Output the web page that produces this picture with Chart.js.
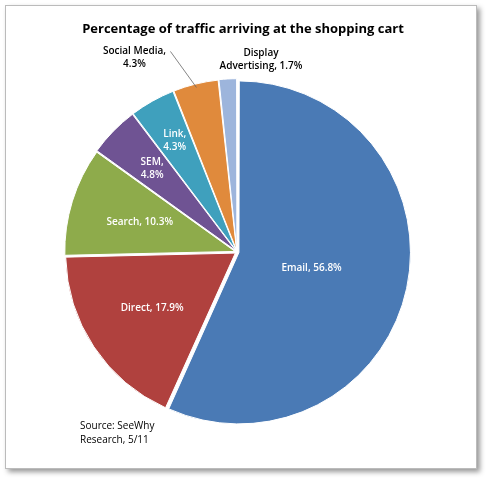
<!DOCTYPE html>
<html><head><meta charset="utf-8">
<script src="https://cdn.jsdelivr.net/npm/chart.js@4"></script>
<style>
body{margin:0;background:#fff;}
#frame{position:absolute;left:5px;top:5px;width:470px;height:462px;border:1px solid #bbb;box-shadow:3px 3px 5px #999;background:#fff;}
canvas{position:absolute;left:0;top:0;}
</style></head>
<body><div id="frame"></div><canvas id="c" width="487" height="483"></canvas>
<script>
const categories = ['Email', 'Direct', 'Search', 'SEM', 'Link', 'Social Media', 'Display Advertising'];
const shares = [56.8, 17.9, 10.3, 4.8, 4.3, 4.3, 1.7];
const colors = ['#4a7ab5', '#b0413e', '#8eab4b', '#6f5393', '#3fa0bd', '#e08a3c', '#9db5dc'];
// label lines per slice, where to put them (fraction of radius) and outside nudges
const labelLines = [['Email, 56.8%'], ['Direct, 17.9%'], ['Search, 10.3%'], ['SEM,', '4.8%'], ['Link,', '4.3%'], ['Social Media,', '4.3%'], ['Display', 'Advertising, 1.7%']];
const labelRadius = [0.45, 0.6, 0.6, 0.7, 0.75, 0, 0];
const outsideShift = {5: [-62, -30], 6: [33, -23]};

const labels = {
  id: 'labels',
  afterDraw(chart) {
    const ctx = chart.ctx;
    ctx.save();
    ctx.textAlign = 'center';
    ctx.textBaseline = 'middle';
    ctx.font = 'bold 13px "Open Sans", sans-serif';
    ctx.fillStyle = '#000';
    ctx.fillText('Percentage of traffic arriving at the shopping cart', 243, 29);
    ctx.font = '10px "Open Sans", sans-serif';
    ctx.textAlign = 'left';
    ctx.fillText('Source: SeeWhy', 80, 426);
    ctx.fillText('Research, 5/11', 80, 440);
    ctx.textAlign = 'center';
    chart.getDatasetMeta(0).data.forEach((arc, i) => {
      const mid = (arc.startAngle + arc.endAngle) / 2;
      let x, y;
      if (outsideShift[i]) {
        const ox = arc.x + Math.cos(mid) * arc.outerRadius;
        const oy = arc.y + Math.sin(mid) * arc.outerRadius;
        x = ox + outsideShift[i][0];
        y = oy + outsideShift[i][1];
        if (i === 5) {
          ctx.strokeStyle = '#666';
          ctx.lineWidth = 0.8;
          ctx.beginPath();
          ctx.moveTo(ox, oy);
          ctx.lineTo(x + 36, y - 6);
          ctx.stroke();
        }
        ctx.fillStyle = '#000';
        ctx.font = '600 10px "Open Sans", sans-serif';
      } else {
        const r = arc.outerRadius * labelRadius[i];
        x = arc.x + Math.cos(mid) * r;
        y = arc.y + Math.sin(mid) * r;
        ctx.fillStyle = '#fff';
        ctx.font = '600 10px "Open Sans", sans-serif';
      }
      const ls = labelLines[i];
      ls.forEach((t, k) => ctx.fillText(t, x, y + (k - (ls.length - 1) / 2) * 13));
    });
    ctx.restore();
  }
};

new Chart(document.getElementById('c'), {
  type: 'pie',
  data: { labels: categories, datasets: [{ data: shares, backgroundColor: colors, borderColor: '#fff', borderWidth: 1, offset: 8 }] },
  options: {
    responsive: false, animation: false,
    layout: { padding: { left: 63, right: 76, top: 78, bottom: 57 } },
    plugins: { legend: { display: false }, tooltip: { enabled: false } }
  },
  plugins: [labels]
});
</script></body></html>
